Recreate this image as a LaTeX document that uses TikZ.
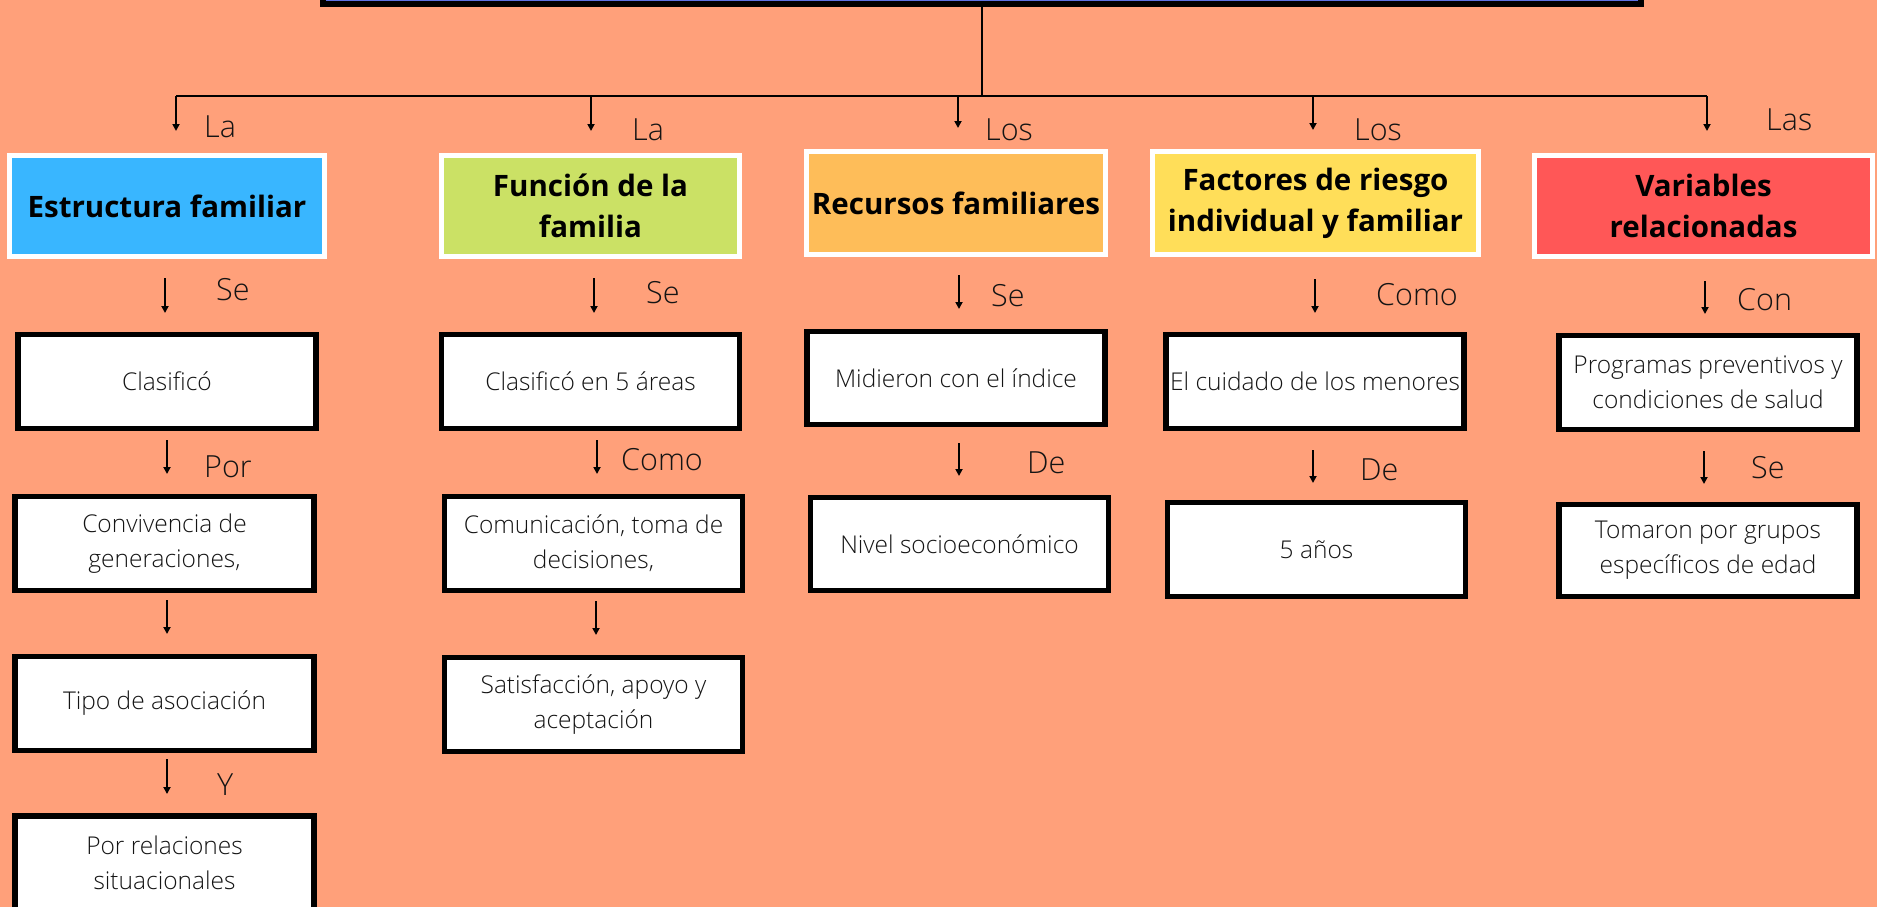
\documentclass[tikz,border=0pt]{standalone}
\usepackage{fontspec}
\setmainfont{Open Sans}
\IfFontExistsTF{Open Sans Light}{\newfontfamily\lightfont{Open Sans Light}}{\newfontfamily\lightfont{Open Sans}}
\newfontfamily\boldfont{Open Sans Bold}
\usetikzlibrary{arrows.meta}
\definecolor{bg}{RGB}{255,160,122}
\definecolor{cEst}{RGB}{57,182,255}
\definecolor{cFun}{RGB}{203,225,101}
\definecolor{cRec}{RGB}{254,189,89}
\definecolor{cFac}{RGB}{255,222,89}
\definecolor{cVar}{RGB}{255,87,87}
\definecolor{cTit}{RGB}{94,114,228}
\definecolor{ink}{RGB}{20,20,20}
\begin{document}
\begin{tikzpicture}[x=1pt,y=-1pt,
  hdr/.style={draw=white, line width=5pt, inner sep=0pt, minimum height=101pt, align=center, text=black, font=\boldfont\fontsize{29.5}{41}\selectfont},
  wbox/.style={draw=black, line width=5.5pt, fill=white, inner sep=0pt, minimum width=298pt, minimum height=94pt, align=center, text=ink, font=\lightfont\fontsize{24.5}{35}\selectfont},
  lbl/.style={anchor=base west, inner sep=0pt, text=ink, font=\lightfont\fontsize{30.5}{36}\selectfont},
  ln/.style={draw=black, line width=2pt},
  arr/.style={ln, -{Triangle[width=7pt,length=7pt]}}]
\fill[bg] (0,0) rectangle (1877,907);
\useasboundingbox (0,0) rectangle (1877,907);
% title box (mostly above the page)
\node[draw=black, fill=cTit, line width=6pt, minimum width=1318pt, minimum height=68pt, inner sep=0pt] (title) at (981.5,-29.5) {};
% headers
\node[hdr, fill=cEst, minimum width=315pt] (h1) at (167,206) {Estructura familiar};
\node[hdr, fill=cFun, minimum width=298pt] (h2) at (590.5,206) {Función de la\\familia};
\node[hdr, fill=cRec, minimum width=299pt, minimum height=103pt] (h3) at (956,203) {Recursos familiares};
\node[hdr, fill=cFac, minimum width=326pt, minimum height=103pt] (h4) at (1315.5,203) {Factores de riesgo\\individual y familiar};
\node[hdr, fill=cVar, minimum width=338pt] (h5) at (1703.5,206) {Variables\\relacionadas};
% row 2
\node[wbox] (b21) at (167,381.5) {Clasificó};
\node[wbox] (b22) at (590.5,381.5) {Clasificó en 5 áreas};
\node[wbox, minimum height=93pt] (b23) at (956,378) {Midieron con el índice};
\node[wbox] (b24) at (1315,381.5) {El cuidado de los menores};
\node[wbox] (b25) at (1708,382.5) {Programas preventivos y\\condiciones de salud};
% row 3
\node[wbox, minimum width=299pt] (b31) at (164.5,543.5) {Convivencia de\\generaciones,};
\node[wbox] (b32) at (593.5,543.5) {Comunicación, toma de\\decisiones,};
\node[wbox, minimum height=93pt] (b33) at (959.5,544) {Nivel socioeconómico};
\node[wbox] (b34) at (1316.5,549.5) {5 años};
\node[wbox, minimum height=92pt] (b35) at (1708,550.5) {Tomaron por grupos\\específicos de edad};
% row 4
\node[wbox, minimum width=299pt] (b41) at (164.5,703.5) {Tipo de asociación};
\node[wbox] (b42) at (593.5,704.5) {Satisfacción, apoyo y\\aceptación};
% row 5
\node[wbox, minimum width=299pt] (b51) at (164.5,863) {Por relaciones\\situacionales};
% trunk and bar
\coordinate (barL) at (176,96);
\coordinate (barR) at (1707,96);
\draw[ln] (title.south) -- (title.south |- barL);
\draw[ln] (barL) -- (barR);
% arrows
\foreach \n/\x/\a/\b in {t1/176/96/131, t2/591/96/131, t3/958/96/128, t4/1313/96/130, t5/1707/96/131,
  s1/165/278/313, s2/594/278/313, s3/959/275/309, s4/1315/279/313, s5/1705/281/314,
  u1/167/440/474, u2/597/440/474, u3/959/443/476, u4/1313/450/483, u5/1704/451/484,
  v1/167/600/634, v2/596/601/635, w1/167/759/794}{
  \coordinate (\n s) at (\x,\a);
  \coordinate (\n e) at (\x,\b);
  \draw[arr] (\n s) -- (\n e);
}
% labels
\node[lbl] (l1) at (204,137) {La};
\node[lbl] (l2) at (632,140) {La};
\node[lbl] (l3) at (985,140) {Los};
\node[lbl] (l4) at (1354,140) {Los};
\node[lbl] (l5) at (1766,130) {Las};
\node[lbl] (m1) at (216,300) {Se};
\node[lbl] (m2) at (646,303) {Se};
\node[lbl] (m3) at (991,306) {Se};
\node[lbl] (m4) at (1376,305) {Como};
\node[lbl] (m5) at (1737,310) {Con};
\node[lbl] (n1) at (204,477) {Por};
\node[lbl] (n2) at (621,470) {Como};
\node[lbl] (n3) at (1027,473) {De};
\node[lbl] (n4) at (1360,480) {De};
\node[lbl] (n5) at (1751,478) {Se};
\node[lbl] (o1) at (217,795) {Y};
\end{tikzpicture}
\end{document}
